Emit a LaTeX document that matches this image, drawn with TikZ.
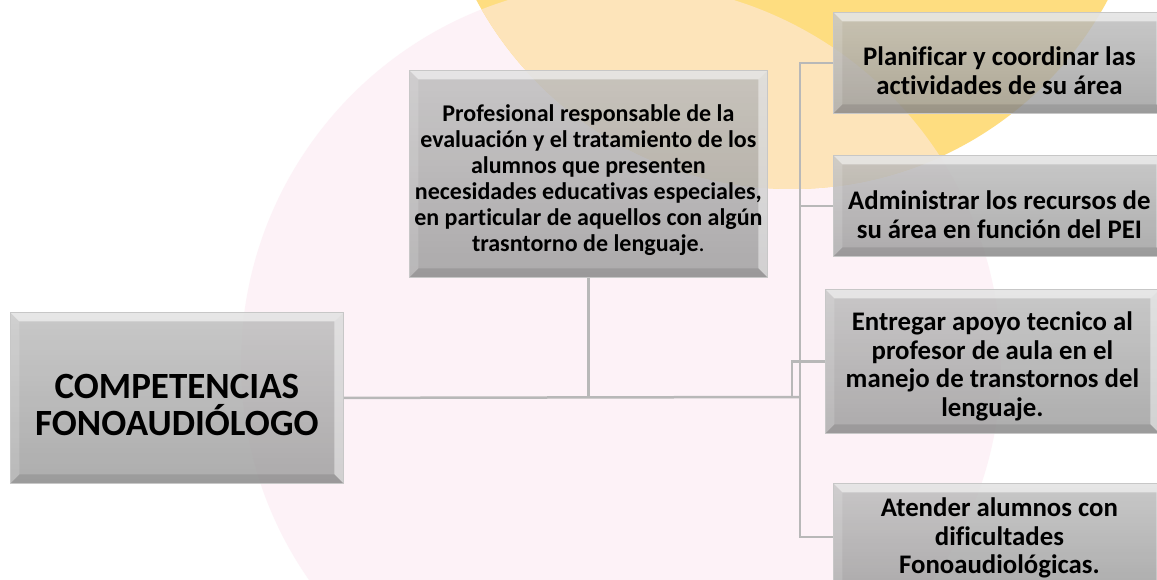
\documentclass[tikz,border=0pt]{standalone}
\usepackage{fontspec}
\setmainfont{Carlito}[Ligatures=NoCommon]
\definecolor{amarillo}{HTML}{FEDD80}
\definecolor{rosa}{HTML}{FDF2F7}
\definecolor{durazno}{HTML}{FDE4BA}
\definecolor{linea}{HTML}{B8B8B8}
\begin{document}
\begin{tikzpicture}[x=1pt,y=-1pt,font=\bfseries]
\tikzset{B/.style={anchor=north west,draw=black!22,line width=0.8pt,top color=black!26,bottom color=black!39,
fill opacity=0.82,inner sep=0pt,
path picture={
\coordinate (nw) at (path picture bounding box.north west);
\coordinate (ne) at (path picture bounding box.north east);
\coordinate (sw) at (path picture bounding box.south west);
\coordinate (se) at (path picture bounding box.south east);
\fill[white,opacity=.55] (nw)--(ne)--([shift={(-9pt,-9pt)}]ne)--([shift={(9pt,-9pt)}]nw)--cycle;
\fill[white,opacity=.15] (nw)--([shift={(9pt,-9pt)}]nw)--([shift={(9pt,9pt)}]sw)--(sw)--cycle;
\fill[white,opacity=.45] (ne)--([shift={(-9pt,-9pt)}]ne)--([shift={(-9pt,9pt)}]se)--(se)--cycle;
\fill[black,opacity=.10] (sw)--([shift={(9pt,9pt)}]sw)--([shift={(-9pt,9pt)}]se)--(se)--cycle;
}},
T/.style={align=center,inner sep=0pt},
R/.style={B,minimum width=332},
RT/.style={T,font=\fontsize{26.8}{28.5}\selectfont\bfseries},
C/.style={draw=linea,line width=2.5pt}
}

\useasboundingbox (0,0) rectangle (1157,580);

% fondo
\fill[white] (0,0) rectangle (1157,580);
\fill[rosa] (621,363) circle (380pt);
\fill[amarillo] (792,-169) circle (358pt);
\begin{scope}
\clip (621,363) circle (380pt);
\fill[durazno] (792,-169) circle (358pt);
\end{scope}

% cajas
\coordinate (J) at (800,397);
\node(main)[B,minimum width=333,minimum height=171,
label={[T,yshift=-7pt,font=\fontsize{37}{37}\selectfont\bfseries]center:{COMPETENCIAS\\FONOAUDIÓLOGO}}] at (10,312) {};
\node(prof)[B,minimum width=358,minimum height=207,
label={[T,yshift=-6pt,font=\fontsize{24}{26}\selectfont\bfseries]center:{Profesional responsable de la\\evaluación y el tratamiento de los\\alumnos que presenten\\necesidades educativas especiales,\\en particular de aquellos con algún\\trasntorno de lenguaje\textmd{.}}}] at (409,70) {};

% conectores
\draw[C] (main.east) -- (J);
\draw[C] (prof.south) -- (prof.south |- J);

\node(plan)[R,minimum height=101,
label={[RT,yshift=-8pt]center:{Planificar y coordinar las\\actividades de su área}}] at (833,12) {};
\node(admi)[R,minimum height=101,
label={[RT,yshift=-9pt]center:{Administrar los recursos de\\su área en función del PEI}}] at (833,155) {};
\node(entr)[R,minimum width=334,minimum height=144,
label={[RT,yshift=-5pt]center:{Entregar apoyo tecnico al\\profesor de aula en el\\manejo de transtornos del\\lenguaje.}}] at (825,289) {};
\node(aten)[R,minimum height=107,
label={[RT,yshift=-1pt]center:{Atender alumnos con\\dificultades\\Fonoaudiológicas.}}] at (833,483) {};

\draw[C] (plan.west) -| (J) |- (aten.west);
\draw[C] (admi.west) -- (admi.west -| J);
\draw[C] (entr.west) -| ([xshift=-8pt]J);

\end{tikzpicture}
\end{document}
